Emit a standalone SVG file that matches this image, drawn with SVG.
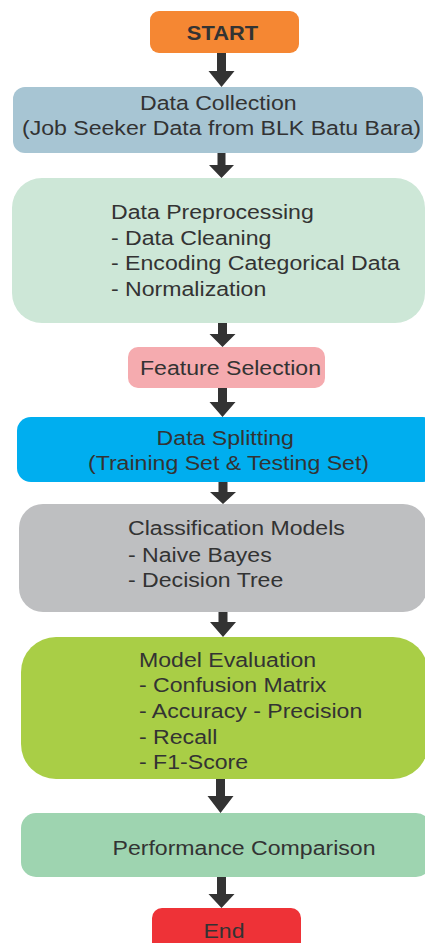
<svg xmlns="http://www.w3.org/2000/svg" width="425" height="943" viewBox="0 0 425 943">
  <style>
    .t { font-family: "Liberation Sans", Arial, sans-serif; font-size: 21px; fill: #333333; }
    .b { font-weight: bold; font-size: 20px; }
    .c { text-anchor: middle; }
    .arrow { fill: #333333; }
  </style>
  <defs>
    <!-- block arrow pointing down, tip at (0,0), shaft length set per use -->
  </defs>
  <rect width="425" height="943" fill="#ffffff"/>

  <g id="connectors">
    <path class="arrow" d="M217 53 H226 V71 H234.5 L221.5 87 L208.5 71 H217 Z"/>
    <path class="arrow" d="M217.5 153 H225.5 V165 H234 L221.5 178 L209 165 H217.5 Z"/>
    <path class="arrow" d="M218 323 H227 V334 H235.5 L222.5 347 L209.5 334 H218 Z"/>
    <path class="arrow" d="M218 388 H227 V402 H235.5 L222.5 417 L209.5 402 H218 Z"/>
    <path class="arrow" d="M218.5 482 H227.5 V492 H236 L223 504 L210 492 H218.5 Z"/>
    <path class="arrow" d="M218.5 612 H227.5 V622 H236 L223 637 L210 622 H218.5 Z"/>
    <path class="arrow" d="M216 779 H225 V796 H233.5 L220.5 813 L207.5 796 H216 Z"/>
    <path class="arrow" d="M217 877 H226 V894 H234.5 L221.5 908 L208.5 894 H217 Z"/>
  </g>

  <g id="start">
    <rect x="150" y="11" width="149" height="42" rx="9" fill="#F58733"/>
    <text class="t b c" transform="translate(222.5 39.5) scale(1.095 1)">START</text>
  </g>

  <g id="data-collection">
    <rect x="13" y="87" width="410" height="66" rx="12" fill="#A7C5D3"/>
    <text class="t c" transform="translate(221.5 0) scale(1.1 1)">
      <tspan x="0" y="110">Data Collection</tspan>
      <tspan x="0" y="135">(Job Seeker Data from BLK Batu Bara)</tspan>
    </text>
  </g>

  <g id="data-preprocessing">
    <rect x="12" y="178" width="413" height="145" rx="30" fill="#CDE7D7"/>
    <text class="t" transform="translate(111 0) scale(1.1 1)">
      <tspan x="0" y="219">Data Preprocessing</tspan>
      <tspan x="0" y="245">- Data Cleaning</tspan>
      <tspan x="0" y="270">- Encoding Categorical Data</tspan>
      <tspan x="0" y="296">- Normalization</tspan>
    </text>
  </g>

  <g id="feature-selection">
    <rect x="128" y="347" width="197" height="41" rx="10" fill="#F5ABAF"/>
    <text class="t c" transform="translate(230.5 375) scale(1.1 1)">Feature Selection</text>
  </g>

  <g id="data-splitting">
    <rect x="17" y="417" width="420" height="65" rx="14" fill="#00AEEF"/>
    <text class="t c" transform="translate(228.5 0) scale(1.1 1)">
      <tspan x="0" y="445">Data Splitting</tspan>
      <tspan x="0" y="470">(Training Set &amp; Testing Set)</tspan>
    </text>
  </g>

  <g id="classification-models">
    <rect x="19" y="504" width="408" height="108" rx="24" fill="#BEBFC1"/>
    <text class="t" transform="translate(128 0) scale(1.1 1)">
      <tspan x="0" y="535">Classification Models</tspan>
      <tspan x="0" y="562">- Naive Bayes</tspan>
      <tspan x="0" y="587">- Decision Tree</tspan>
    </text>
  </g>

  <g id="model-evaluation">
    <rect x="21" y="637" width="407" height="142" rx="35" fill="#A9CE46"/>
    <text class="t" transform="translate(139 0) scale(1.1 1)">
      <tspan x="0" y="667">Model Evaluation</tspan>
      <tspan x="0" y="692">- Confusion Matrix</tspan>
      <tspan x="0" y="718">- Accuracy - Precision</tspan>
      <tspan x="0" y="744">- Recall</tspan>
      <tspan x="0" y="769">- F1-Score</tspan>
    </text>
  </g>

  <g id="performance-comparison">
    <rect x="21" y="813" width="410" height="64" rx="15" fill="#9ED4B0"/>
    <text class="t c" transform="translate(244 855) scale(1.1 1)">Performance Comparison</text>
  </g>

  <g id="end">
    <rect x="152" y="908" width="149" height="50" rx="10" fill="#EE3237"/>
    <text class="t c" transform="translate(224 938) scale(1.1 1)">End</text>
  </g>
</svg>
